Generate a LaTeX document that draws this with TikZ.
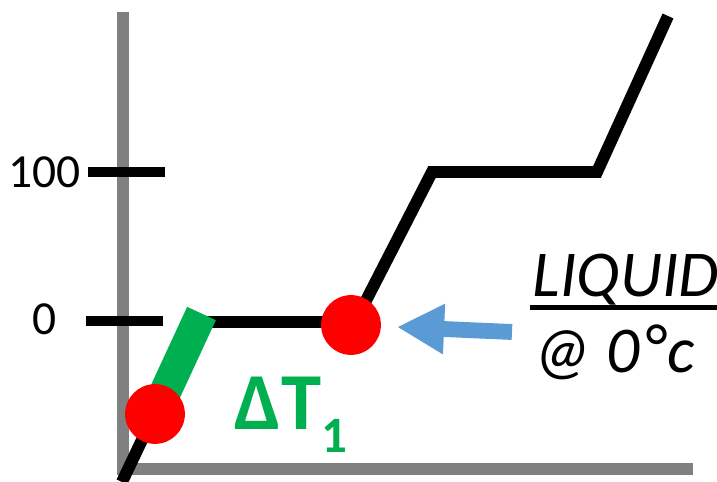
\documentclass[tikz,border=0pt]{standalone}
\usepackage{fontspec}
\setmainfont{Carlito}
\usetikzlibrary{arrows.meta}

\definecolor{axisgray}{RGB}{128,128,128}
\definecolor{deltagreen}{RGB}{0,176,80}
\definecolor{arrowblue}{RGB}{91,155,213}

\tikzset{
  axisline/.style={line width=3.4pt, axisgray},
  tickline/.style={line width=3.1pt, black},
  heatcurve/.style={line width=3.4pt, black, line join=miter},
  deltaband/.style={line width=9pt, deltagreen},
  dot/.style={circle, fill=red, inner sep=0pt, minimum size=17pt},
  ticklabel/.style={inner sep=0pt, font=\fontsize{13.5}{13.5}\selectfont},
  notetext/.style={inner sep=0pt, font=\fontsize{18.6}{18.6}\selectfont\itshape}
}

\begin{document}
\begin{tikzpicture}[x=0.01cm,y=-0.01cm]
\useasboundingbox (0,0) rectangle (717,482);

% axes
\draw[axisline] (123,12) -- (123,469) -- (693,469);

% ticks and their values
\draw[tickline] (88,172) -- (165,172);
\draw[tickline] (86,321) -- (163,321);
\node[ticklabel, anchor=east] (v100) at (81,172) {100};
\node[ticklabel] (v0) at (45,319) {0};

% heating curve
\coordinate (c0) at (122,482);
\coordinate (c1) at (198,322);
\coordinate (c2) at (355,322);
\coordinate (c3) at (432,172);
\coordinate (c4) at (597,172);
\coordinate (c5) at (668,16);
\draw[heatcurve] (c0) -- (c1) -- (c2) -- (c3) -- (c4) -- (c5);

% temperature change of the solid
\coordinate (bandbot) at (155,414);
\coordinate (bandtop) at (201.5,313.5);
\draw[deltaband] (bandbot) -- (bandtop);
\node[dot] (solid) at (bandbot) {};
\node[dot] (liquid) at (351,325) {};

\node[anchor=base west, inner sep=0pt, text=deltagreen,
      font=\fontsize{23}{23}\selectfont\bfseries] (dT) at (234,430)
  {ΔT\raisebox{-6.3pt}{\fontsize{14.5}{14.5}\selectfont 1}};

% note with arrow
\node[notetext, anchor=base west] (liqtxt) at (532,297) {LIQUID};
\draw[line width=1.2pt] ([xshift=-0.5pt,yshift=-3pt]liqtxt.base west) -- ([xshift=1pt,yshift=-3pt]liqtxt.base east);
\node[notetext, anchor=base west] (attxt) at (533,373) {@ 0\kern1pt\raisebox{1pt}{°}\kern0.5pt c};

\coordinate (arrtail) at (512,332);
\coordinate (arrtip) at (397,327);
\draw[line width=4.5pt, arrowblue, -{Triangle[length=13.4pt,width=13.4pt]}] (arrtail) -- (arrtip);
\end{tikzpicture}
\end{document}
